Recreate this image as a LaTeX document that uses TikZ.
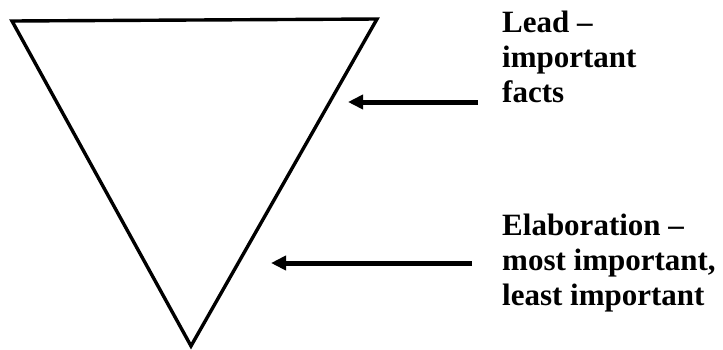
\documentclass[tikz,border=0pt]{standalone}
\usepackage{fontspec}
\setmainfont{Liberation Serif}
\usepackage{tikz}
\usetikzlibrary{arrows.meta}
\tikzset{edge/.style={line width=3.4pt,line join=miter,black},
         pointer/.style={-{Triangle[length=15pt,width=14pt]},line width=5pt},
         note/.style={anchor=north west,inner sep=0pt,align=left,
                      font=\bfseries\fontsize{31}{35}\selectfont}}

\begin{document}
\begin{tikzpicture}[x=1pt,y=-1pt]
  \useasboundingbox (0,0) rectangle (723,349);
  \coordinate (tl) at (12,21);
  \coordinate (tr) at (377,19);
  \coordinate (apex) at (191,346);
  \draw[edge] (tl)--(tr)--(apex)--cycle;
  \node[note] (lead) at (502,11) {Lead --\\important\\facts};
  \node[note] (elab) at (502,214) {Elaboration --\\most important,\\least important};
  \coordinate (leadtip) at (348,102);
  \coordinate (elabtip) at (271,263);
  \draw[pointer] ([xshift=-24pt]lead.west |- leadtip) -- (leadtip);
  \draw[pointer] ([xshift=-30pt]elab.west |- elabtip) -- (elabtip);
\end{tikzpicture}
\end{document}
